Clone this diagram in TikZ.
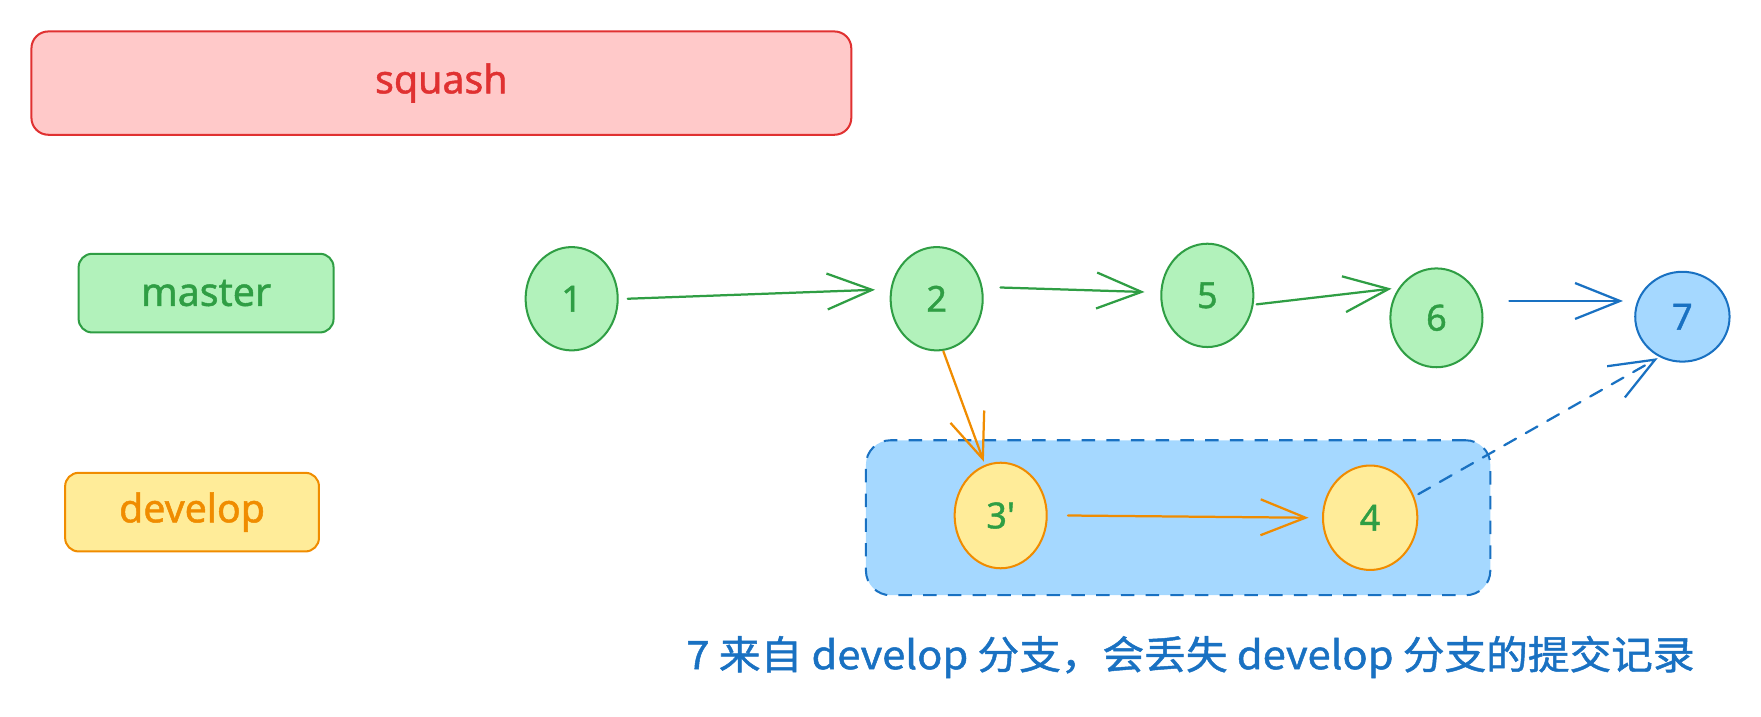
\documentclass[tikz,border=0pt]{standalone}
\usepackage{fontspec}
\setmainfont{Noto Sans}
\newfontfamily\lblfont[FakeBold=1.2]{Noto Sans}
\newfontfamily\cjk[FakeBold=1.2]{Noto Sans CJK SC}
\usetikzlibrary{arrows.meta,shapes.geometric}
\definecolor{redS}{HTML}{E03131}
\definecolor{redF}{HTML}{FFC9C9}
\definecolor{greenS}{HTML}{2F9E44}
\definecolor{greenF}{HTML}{B2F2BB}
\definecolor{orangeS}{HTML}{F08C00}
\definecolor{yellowF}{HTML}{FFEC99}
\definecolor{blueS}{HTML}{1971C2}
\definecolor{blueF}{HTML}{A5D8FF}
\tikzset{
  lbl/.style={draw, line width=1.8pt, rounded corners=12pt, inner sep=0pt, font=\lblfont\fontsize{35}{40}\selectfont},
  commit/.style={ellipse, draw, line width=1.8pt, minimum width=82pt, minimum height=92pt, inner sep=0pt, font=\lblfont\fontsize{32}{36}\selectfont},
  gcommit/.style={commit, fill=greenF, draw=greenS, text=greenS},
  ycommit/.style={commit, fill=yellowF, draw=orangeS, text=greenS},
  bcommit/.style={commit, fill=blueF, draw=blueS, text=blueS},
  conn/.style={line width=2pt, line cap=round, -{Straight Barb[length=40pt,width=32pt,line width=2pt]}},
}
\begin{document}
\begin{tikzpicture}[x=1pt,y=-1pt]
\useasboundingbox (0,0) rectangle (1568,638.4);
% labels
\node[lbl, fill=redF, draw=redS, text=redS, minimum width=730pt, minimum height=92pt, rounded corners=15pt] (squash) at (393,74) {squash};
\node[lbl, fill=greenF, draw=greenS, text=greenS, minimum width=227pt, minimum height=70pt] (master) at (183.5,261) {master};
\node[lbl, fill=yellowF, draw=orangeS, text=orangeS, minimum width=226pt, minimum height=70pt] (develop) at (171,456) {develop};
% group
\node[draw=blueS, fill=blueF, line width=1.8pt, dash pattern=on 12pt off 10pt, rounded corners=22pt, minimum width=556pt, minimum height=138pt, inner sep=0pt] (grp) at (1049,461) {};
% commits
\node[gcommit] (c1) at (509,266) {1};
\node[gcommit] (c2) at (834,266) {2};
\node[gcommit] (c5) at (1075,263) {5};
\node[gcommit, minimum height=88pt] (c6) at (1279,283) {6};
\node[bcommit, minimum width=84pt, minimum height=80pt] (c7) at (1498,282) {7};
\node[ycommit, minimum height=94pt] (c3) at (891,459) {3'};
\node[ycommit, minimum width=84pt, minimum height=93pt] (c4) at (1220,461) {4};
% connectors
\draw[conn, greenS] ([xshift=8pt]c1.east) -- ([xshift=-13pt,yshift=8pt]c2.west);
\draw[conn, greenS] ([xshift=15pt,yshift=10pt]c2.east) -- ([xshift=-14pt,yshift=3pt]c5.west);
\draw[conn, greenS] ([xshift=2pt,yshift=-8pt]c5.east) -- ([xshift=2pt,yshift=26pt]c6.west);
\draw[conn, blueS] ([xshift=23pt,yshift=15pt]c6.east) -- ([xshift=-10pt,yshift=14pt]c7.west);
\draw[conn, orangeS] ([xshift=6pt]c2.south) -- ([xshift=-15pt]c3.north);
\draw[conn, orangeS] ([xshift=18pt]c3.east) -- ([xshift=-12pt]c4.west);
\draw[conn, blueS, dash pattern=on 12pt off 10pt] ([yshift=21pt]c4.east) -- ([xshift=-22pt,yshift=4pt]c7.south);
% note
\node[text=blueS, font=\cjk\fontsize{35}{40}\selectfont, inner sep=0pt] (note) at (1060,585) {\scalebox{1.06}[1]{7 来自 develop 分支，会丢失 develop 分支的提交记录}};
\end{tikzpicture}
\end{document}
